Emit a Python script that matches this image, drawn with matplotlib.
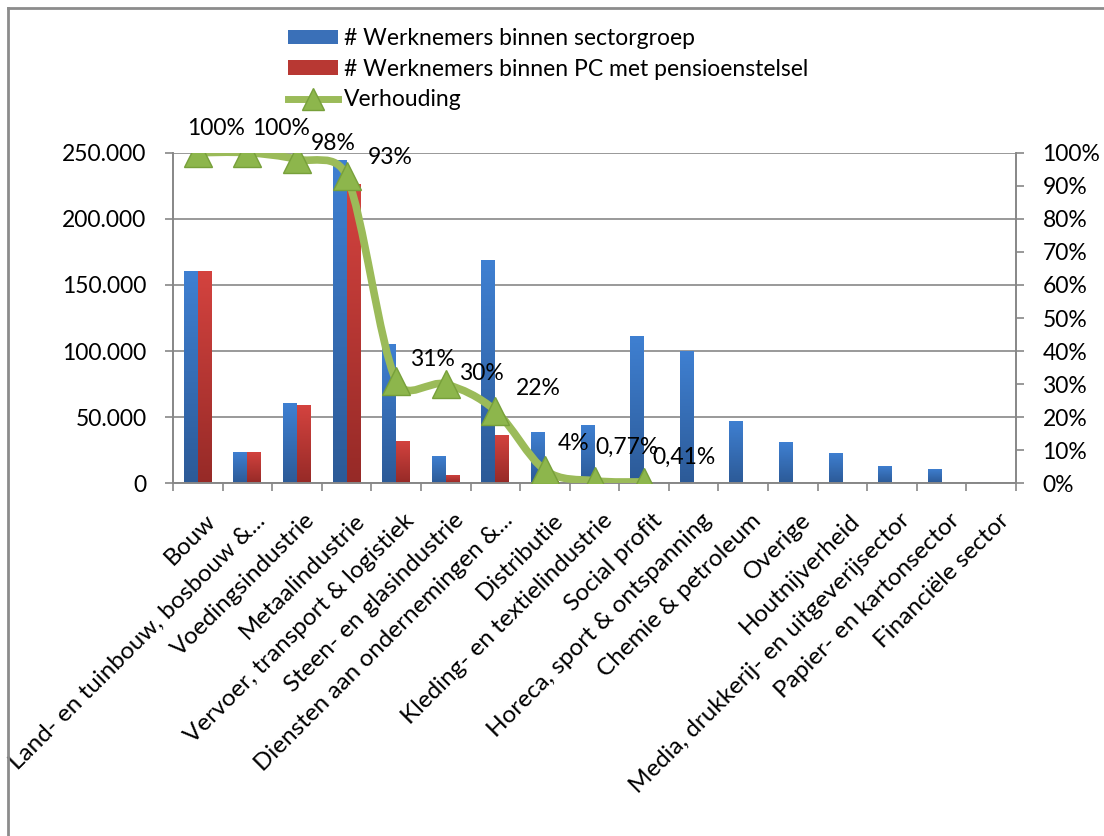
import numpy as np
import matplotlib.pyplot as plt
from matplotlib.path import Path
from matplotlib.patches import PathPatch, Patch
from matplotlib.lines import Line2D
from matplotlib.colors import LinearSegmentedColormap
from matplotlib.ticker import FuncFormatter, MultipleLocator, FixedLocator
import matplotlib.transforms as mtransforms

plt.rcParams['font.family'] = ['Lato', 'DejaVu Sans']

# data
sectors = ['Bouw', 'Land- en tuinbouw, bosbouw &...', 'Voedingsindustrie', 'Metaalindustrie',
           'Vervoer, transport & logistiek', 'Steen- en glasindustrie',
           'Diensten aan ondernemingen &...', 'Distributie', 'Kleding- en textielindustrie',
           'Social profit', 'Horeca, sport & ontspanning', 'Chemie & petroleum', 'Overige',
           'Houtnijverheid', 'Media, drukkerij- en uitgeverijsector', 'Papier- en kartonsector',
           'Financiële sector']
werknemers_sector = [160600, 23900, 60400, 244200, 105700, 20600, 168700, 39000, 44000,
                     111500, 100200, 47300, 31000, 23100, 13100, 11000, 1200]
werknemers_pc = [160600, 23900, 58900, 226600, 32000, 6300, 36500, 1560, 340,
                 460, 0, 0, 0, 0, 0, 0, 0]
verhouding = [1.00, 1.00, 0.98, 0.93, 0.31, 0.30, 0.22, 0.04, 0.0077, 0.0041]
verhouding_labels = ['100%', '100%', '98%', '93%', '31%', '30%', '22%', '4%', '0,77%', '0,41%']

# where each data label sits relative to its point (pixels, right / up)
label_offsets = [(18, 24), (34, 24), (36, 16), (44, 18), (36, 21), (36, 11),
                 (43, 22), (29, 27), (33, 33), (40, 25)]

W, H = 1104, 836
fig = plt.figure(figsize=(W / 100, H / 100), dpi=100)
ax = fig.add_axes([173 / W, 1 - 483.3 / H, (1016 - 173) / W, (483.3 - 152.7) / H])
ax2 = ax.twinx()

grey = '#878787'
green = '#9BBB59'
fs = 16.5

x = np.arange(len(sectors))
bw = 0.28
b1 = ax.bar(x - bw / 2, werknemers_sector, bw, color='#3A70B8', zorder=2)
b2 = ax.bar(x + bw / 2, werknemers_pc, bw, color='#B83833', zorder=2)


def gradient_bars(bars, top, bottom):
    grad = np.linspace(0, 1, 256).reshape(-1, 1)
    cmap = LinearSegmentedColormap.from_list('g', [bottom, top])
    for b in bars:
        x0, y0, w, h = b.get_x(), b.get_y(), b.get_width(), b.get_height()
        if h <= 0:
            continue
        im = ax.imshow(grad, extent=(x0, x0 + w, y0, y0 + h), origin='lower',
                       cmap=cmap, aspect='auto', zorder=2.1)
        im.set_clip_path(b)


gradient_bars(b1, '#3F80D2', '#2C5A97')
gradient_bars(b2, '#D4433F', '#962A27')

ax.set_xlim(-0.5, len(sectors) - 0.5)
ax.set_ylim(0, 250000)
ax.set_axisbelow(True)
ax.yaxis.set_major_locator(MultipleLocator(50000))
ax.yaxis.set_major_formatter(FuncFormatter(lambda v, p: f'{int(v):,}'.replace(',', '.')))
ax.grid(axis='y', color=grey, lw=1.2, zorder=0)
ax.tick_params(axis='y', length=6, width=1.2, color=grey, pad=13, labelsize=fs)

# category labels at centres, tick marks at boundaries
ax.set_xticks(x)
ax.set_xticklabels(sectors, rotation=45, ha='right', va='top', rotation_mode='anchor', fontsize=17.5)
ax.tick_params(axis='x', which='major', length=0, pad=19)
ax.xaxis.set_minor_locator(FixedLocator(np.arange(-0.5, len(sectors), 1)))
ax.tick_params(axis='x', which='minor', length=6, width=1.2, color=grey)
shift = mtransforms.ScaledTranslation(7 / 100, 0, fig.dpi_scale_trans)
for lab in ax.get_xticklabels():
    lab.set_transform(lab.get_transform() + shift)

for a in (ax, ax2):
    a.spines['top'].set_visible(False)
    for s in ['left', 'bottom', 'right']:
        a.spines[s].set_color(grey)
        a.spines[s].set_linewidth(1.2)

ax2.set_ylim(0, 1)
ax2.yaxis.set_major_locator(MultipleLocator(0.1))
ax2.yaxis.set_major_formatter(FuncFormatter(lambda v, p: f'{v * 100:.0f}%'))
ax2.tick_params(axis='y', length=6, width=1.2, color=grey, pad=13, labelsize=fs)

# smoothed ratio line, Excel style: Bezier arms of 1/6 of the neighbour chord,
# capped at half the segment length (measured on screen)
px = np.arange(len(verhouding), dtype=float)
py = np.array(verhouding)
pts = np.column_stack([px, py])
scr = ax2.transData.transform(pts)
n = len(pts)
verts = [tuple(pts[0])]
codes = [Path.MOVETO]
for i in range(n - 1):
    i0, i3 = max(i - 1, 0), min(i + 2, n - 1)
    d12 = np.linalg.norm(scr[i + 1] - scr[i])
    d02 = np.linalg.norm(scr[i + 1] - scr[i0])
    d13 = np.linalg.norm(scr[i3] - scr[i])
    f = 1 / 6 if d02 / 6 < d12 / 2 else d12 / d02 / 2
    g = 1 / 6 if d13 / 6 < d12 / 2 else d12 / d13 / 2
    c1 = pts[i] + (pts[i + 1] - pts[i0]) * f
    c2 = pts[i + 1] - (pts[i3] - pts[i]) * g
    verts += [tuple(c1), tuple(c2), tuple(pts[i + 1])]
    codes += [Path.CURVE4] * 3
ax2.add_patch(PathPatch(Path(verts, codes), fill=False, edgecolor=green, lw=5.5,
                        capstyle='round', joinstyle='round', zorder=3))
ax2.plot(px, py, ls='none', marker='^', markersize=20, markerfacecolor='#8DB64C',
         markeredgecolor='#77A03A', markeredgewidth=1, zorder=4)

for xi, yi, t, off in zip(px, py, verhouding_labels, label_offsets):
    ax2.annotate(t, (xi, yi), xytext=off, textcoords='offset pixels',
                 ha='center', va='center', fontsize=fs, zorder=5)

handles = [Patch(facecolor='#3A70B8'), Patch(facecolor='#B83833'),
           Line2D([], [], color=green, lw=5, marker='^', markersize=16,
                  markerfacecolor='#8DB64C', markeredgecolor='#77A03A')]
labels = ['# Werknemers binnen sectorgroep', '# Werknemers binnen PC met pensioenstelsel', 'Verhouding']
fig.legend(handles, labels, loc='upper left', bbox_to_anchor=(288 / W, 1 - 28 / H),
           frameon=False, fontsize=fs, handlelength=2.2, handleheight=0.6,
           handletextpad=0.25, labelspacing=0.42, borderpad=0, borderaxespad=0)

# outer frame (left and top edges only are visible)
fig.add_artist(Line2D([8 / W, 8 / W], [0, 1 - 8 / H], transform=fig.transFigure, color='#8c8c8c', lw=2))
fig.add_artist(Line2D([8 / W, 1], [1 - 8 / H, 1 - 8 / H], transform=fig.transFigure, color='#8c8c8c', lw=2))

fig.savefig('out.png', dpi=100)
